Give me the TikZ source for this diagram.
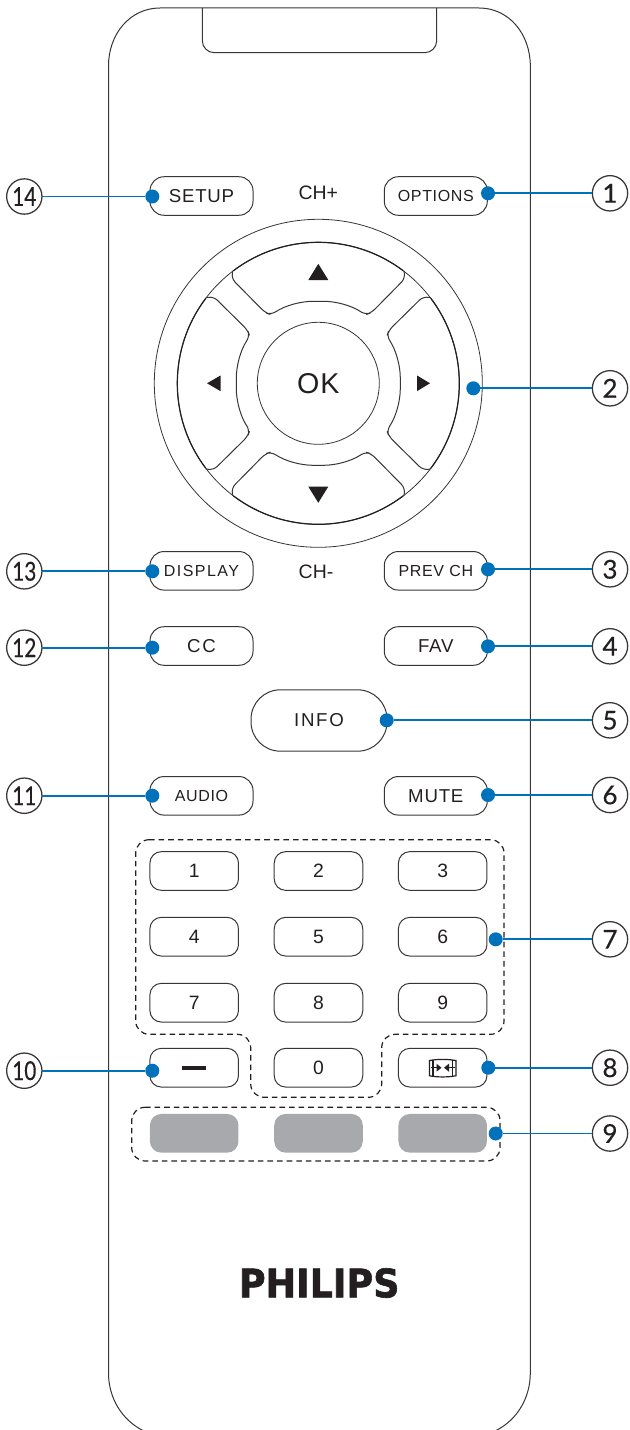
\documentclass[tikz,border=0pt]{standalone}
\usepackage{fontspec}
\usepackage{graphicx}
\setmainfont{Liberation Sans}
\newfontfamily\lab[LetterSpace=4]{Liberation Sans}
\newfontfamily\labw[LetterSpace=9]{Liberation Sans}
\newfontfamily\numf[FakeBold=0.4]{Lato}
\newfontfamily\logof[FakeBold=1.6]{DejaVu Sans Bold}
\definecolor{ink}{HTML}{231F20}
\definecolor{lead}{HTML}{0072BC}
\definecolor{greykey}{HTML}{A7A9AC}
\tikzset{
  outline/.style={draw=ink!90,line width=.75pt},
  thinline/.style={draw=ink!90,line width=.6pt},
  btn/.style={outline,rectangle,rounded corners=10.5pt,minimum width=77.25pt,minimum height=28.9pt,inner sep=0pt,outer sep=0pt,text=ink,font=\lab\fontsize{14}{14}\selectfont},
  btnsmall/.style={btn,font=\lab\fontsize{12}{12}\selectfont},
  keybtn/.style={outline,rectangle,rounded corners=8.5pt,minimum width=66.4pt,minimum height=29pt,inner sep=0pt,outer sep=0pt,text=ink,font=\fontsize{14.5}{15}\selectfont},
  colourkey/.style={rectangle,fill=greykey,rounded corners=8.5pt,minimum width=66.4pt,minimum height=29pt,inner sep=0pt,outer sep=0pt},
  plain/.style={inner sep=0pt,outer sep=0pt,text=ink},
  numcircle/.style={circle,draw=ink!90,line width=.95pt,minimum size=26.5pt,inner sep=0pt,outer sep=0pt,text=ink,font=\numf\fontsize{19.5}{20}\selectfont},
  leaddot/.style={circle,fill=lead,minimum size=10.5pt,inner sep=0pt,outer sep=0pt},
  leadline/.style={draw=lead,line width=1.25pt},
  group/.style={draw=ink,line width=.9pt,dash pattern=on 4.2pt off 3pt,rounded corners=10pt},
  arrowmark/.style={fill=ink,draw=none},
}
\begin{document}
\begin{tikzpicture}[x=.75pt,y=-.75pt]
\useasboundingbox (0,0) rectangle (629,1430);
\clip (0,0) rectangle (629,1430);
\fill[white] (0,0) rectangle (629,1430);
% body
\draw[outline] (143,1430.5) .. controls (122,1420) and (108.5,1398) .. (108.5,1373)
  -- (108.5,66) .. controls (108.5,34) and (130,8) .. (160,8)
  -- (479,8) .. controls (509,8) and (530.3,34) .. (530.3,66)
  -- (530.3,1373) .. controls (530.3,1398) and (517,1420) .. (496,1430.5);
\draw[outline,rounded corners=9pt] (202.3,8) -- (202.3,52.7) -- (436.7,52.7) -- (436.7,8);
% d-pad
\begin{scope}[shift={(318.3,383.3)}]
  \draw[thinline] (0,0) circle[radius=164];
  \draw[thinline] (0,0) circle[radius=141];
  \foreach \r in {0,90,180,270}{
    \begin{scope}[rotate=\r]
      \draw[outline,rounded corners=4pt]
        (-85.5,-112.6) -- (-87,-105) -- (-53,-70.5) -- (-47,-68.5)
        .. controls (-33,-78) and (-17,-82) .. (0,-82)
        .. controls (17,-82) and (33,-78) .. (47,-68.5)
        -- (53,-70.5) -- (87,-105) -- (85.5,-112.6);
      \draw[line width=.9pt,draw=ink] (233:141) arc[start angle=233,end angle=307,radius=141];
    \end{scope}
  }
  \fill[arrowmark] (0,-119.5) -- (10,-103.3) -- (-10,-103.3) -- cycle;
  \fill[arrowmark] (0,119.5) -- (10,103.3) -- (-10,103.3) -- cycle;
  \fill[arrowmark] (-111.3,0) -- (-97.8,-7.8) -- (-97.8,7.8) -- cycle;
  \fill[arrowmark] (111.7,0) -- (98.8,-7.8) -- (98.8,7.8) -- cycle;
\end{scope}
\node[circle,thinline,minimum size=91.5pt,inner sep=0pt,outer sep=0pt,text=ink,font=\lab\fontsize{21.5}{22}\selectfont] (ok) at (318.3,383.3) {OK};
% labels
\node[plain,font=\fontsize{14.6}{15}\selectfont] (chp) at (318.3,193) {CH+};
\node[plain,font=\fontsize{14.6}{15}\selectfont] (chm) at (316,571.5) {CH-};
% buttons
\node[btn] (setup) at (201.5,196) {SETUP};
\node[btnsmall] (options) at (435.8,196) {OPTIONS};
\node[btnsmall,font=\labw\fontsize{12}{12}\selectfont] (display) at (201.5,570.8) {DISPLAY};
\node[btnsmall] (prevch) at (435.8,570.8) {PREV\,\,CH};
\node[btn,font=\labw\fontsize{14}{14}\selectfont] (cc) at (201.5,646) {CC};
\node[btn] (fav) at (435.8,646) {FAV};
\node[btn,rounded corners=22pt,minimum width=102pt,minimum height=46pt,font=\labw\fontsize{14}{14}\selectfont] (info) at (319,720.5) {INFO};
\node[btnsmall] (audio) at (201.5,795.8) {AUDIO};
\node[btn] (mute) at (435.8,795.8) {MUTE};
% keypad
\node[keybtn] (k1) at (194.2,871) {1};
\node[keybtn] (k2) at (318.5,871) {2};
\node[keybtn] (k3) at (442.7,871) {3};
\node[keybtn] (k4) at (194.2,936.7) {4};
\node[keybtn] (k5) at (318.5,936.7) {5};
\node[keybtn] (k6) at (442.7,936.7) {6};
\node[keybtn] (k7) at (194.2,1002.7) {7};
\node[keybtn] (k8) at (318.5,1002.7) {8};
\node[keybtn] (k9) at (442.7,1002.7) {9};
\node[keybtn] (kdash) at (194.2,1067.7) {};
\node[keybtn] (k0) at (318.5,1067.7) {0};
\node[keybtn] (kformat) at (442.7,1067.7) {};
\fill[ink] (182,1066) rectangle (206,1070);
% format icon
\draw[draw=ink,line width=.9pt] (429.5,1060.5) .. controls (438,1059) and (447,1059) .. (456,1060.5)
  -- (456,1075.8) .. controls (447,1077.3) and (438,1077.3) .. (429.5,1075.8) -- cycle;
\draw[draw=ink,line width=.9pt] (433,1060) -- (433,1076.5) (452.5,1060) -- (452.5,1076.5);
\draw[draw=ink,line width=.9pt] (431,1067.7) -- (437,1067.7) (449,1067.7) -- (455,1067.7);
\fill[ink] (441.5,1067.7) -- (436.5,1063.7) -- (436.5,1071.7) -- cycle;
\fill[ink] (444,1067.7) -- (449,1063.7) -- (449,1071.7) -- cycle;
% colour keys
\node[colourkey] (red) at (194.2,1133.3) {};
\node[colourkey] (green) at (318.5,1133.3) {};
\node[colourkey] (blue) at (442.7,1133.3) {};
% dashed groups
\draw[group] (135.7,839.7) -- (504,839.7) -- (504,1034.3) -- (381.7,1034.3) -- (381.7,1097.3)
  -- (250.7,1097.3) -- (250.7,1034.3) -- (135.7,1034.3) -- cycle;
\draw[group] (131.7,1107.3) -- (500,1107.3) -- (500,1161) -- (131.7,1161) -- cycle;
% PHILIPS
\node[plain,font=\logof\fontsize{29.4}{30}\selectfont] (logo) at (319.2,1283) {\scalebox{.93}[1]{PHILIPS}};
% callouts: dot x, y, circle x, number
\foreach \dx/\yy/\cx/\num in {
  488/193.3/610/1, 473.3/388.3/610/2, 488/569.3/610/3, 488/646.3/610/4, 386.7/720.3/610/5,
  488/795/610/6, 495.7/939.3/610/7, 488.3/1067.7/610/8, 495.7/1133.5/610/9,
  152.3/1070.7/24.3/10, 152.3/795.7/24.3/11, 152.3/647.7/24.3/12, 152.3/571.3/24.3/13, 152.3/196.5/24.3/14}{
  \node[numcircle] (n\num) at (\cx,\yy) {\ifnum\num>9 \scalebox{.8}[1]{\num}\else\num\fi};
  \node[leaddot] (d\num) at (\dx,\yy) {};
  \draw[leadline] (n\num) -- (d\num);
}
\end{tikzpicture}
\end{document}
